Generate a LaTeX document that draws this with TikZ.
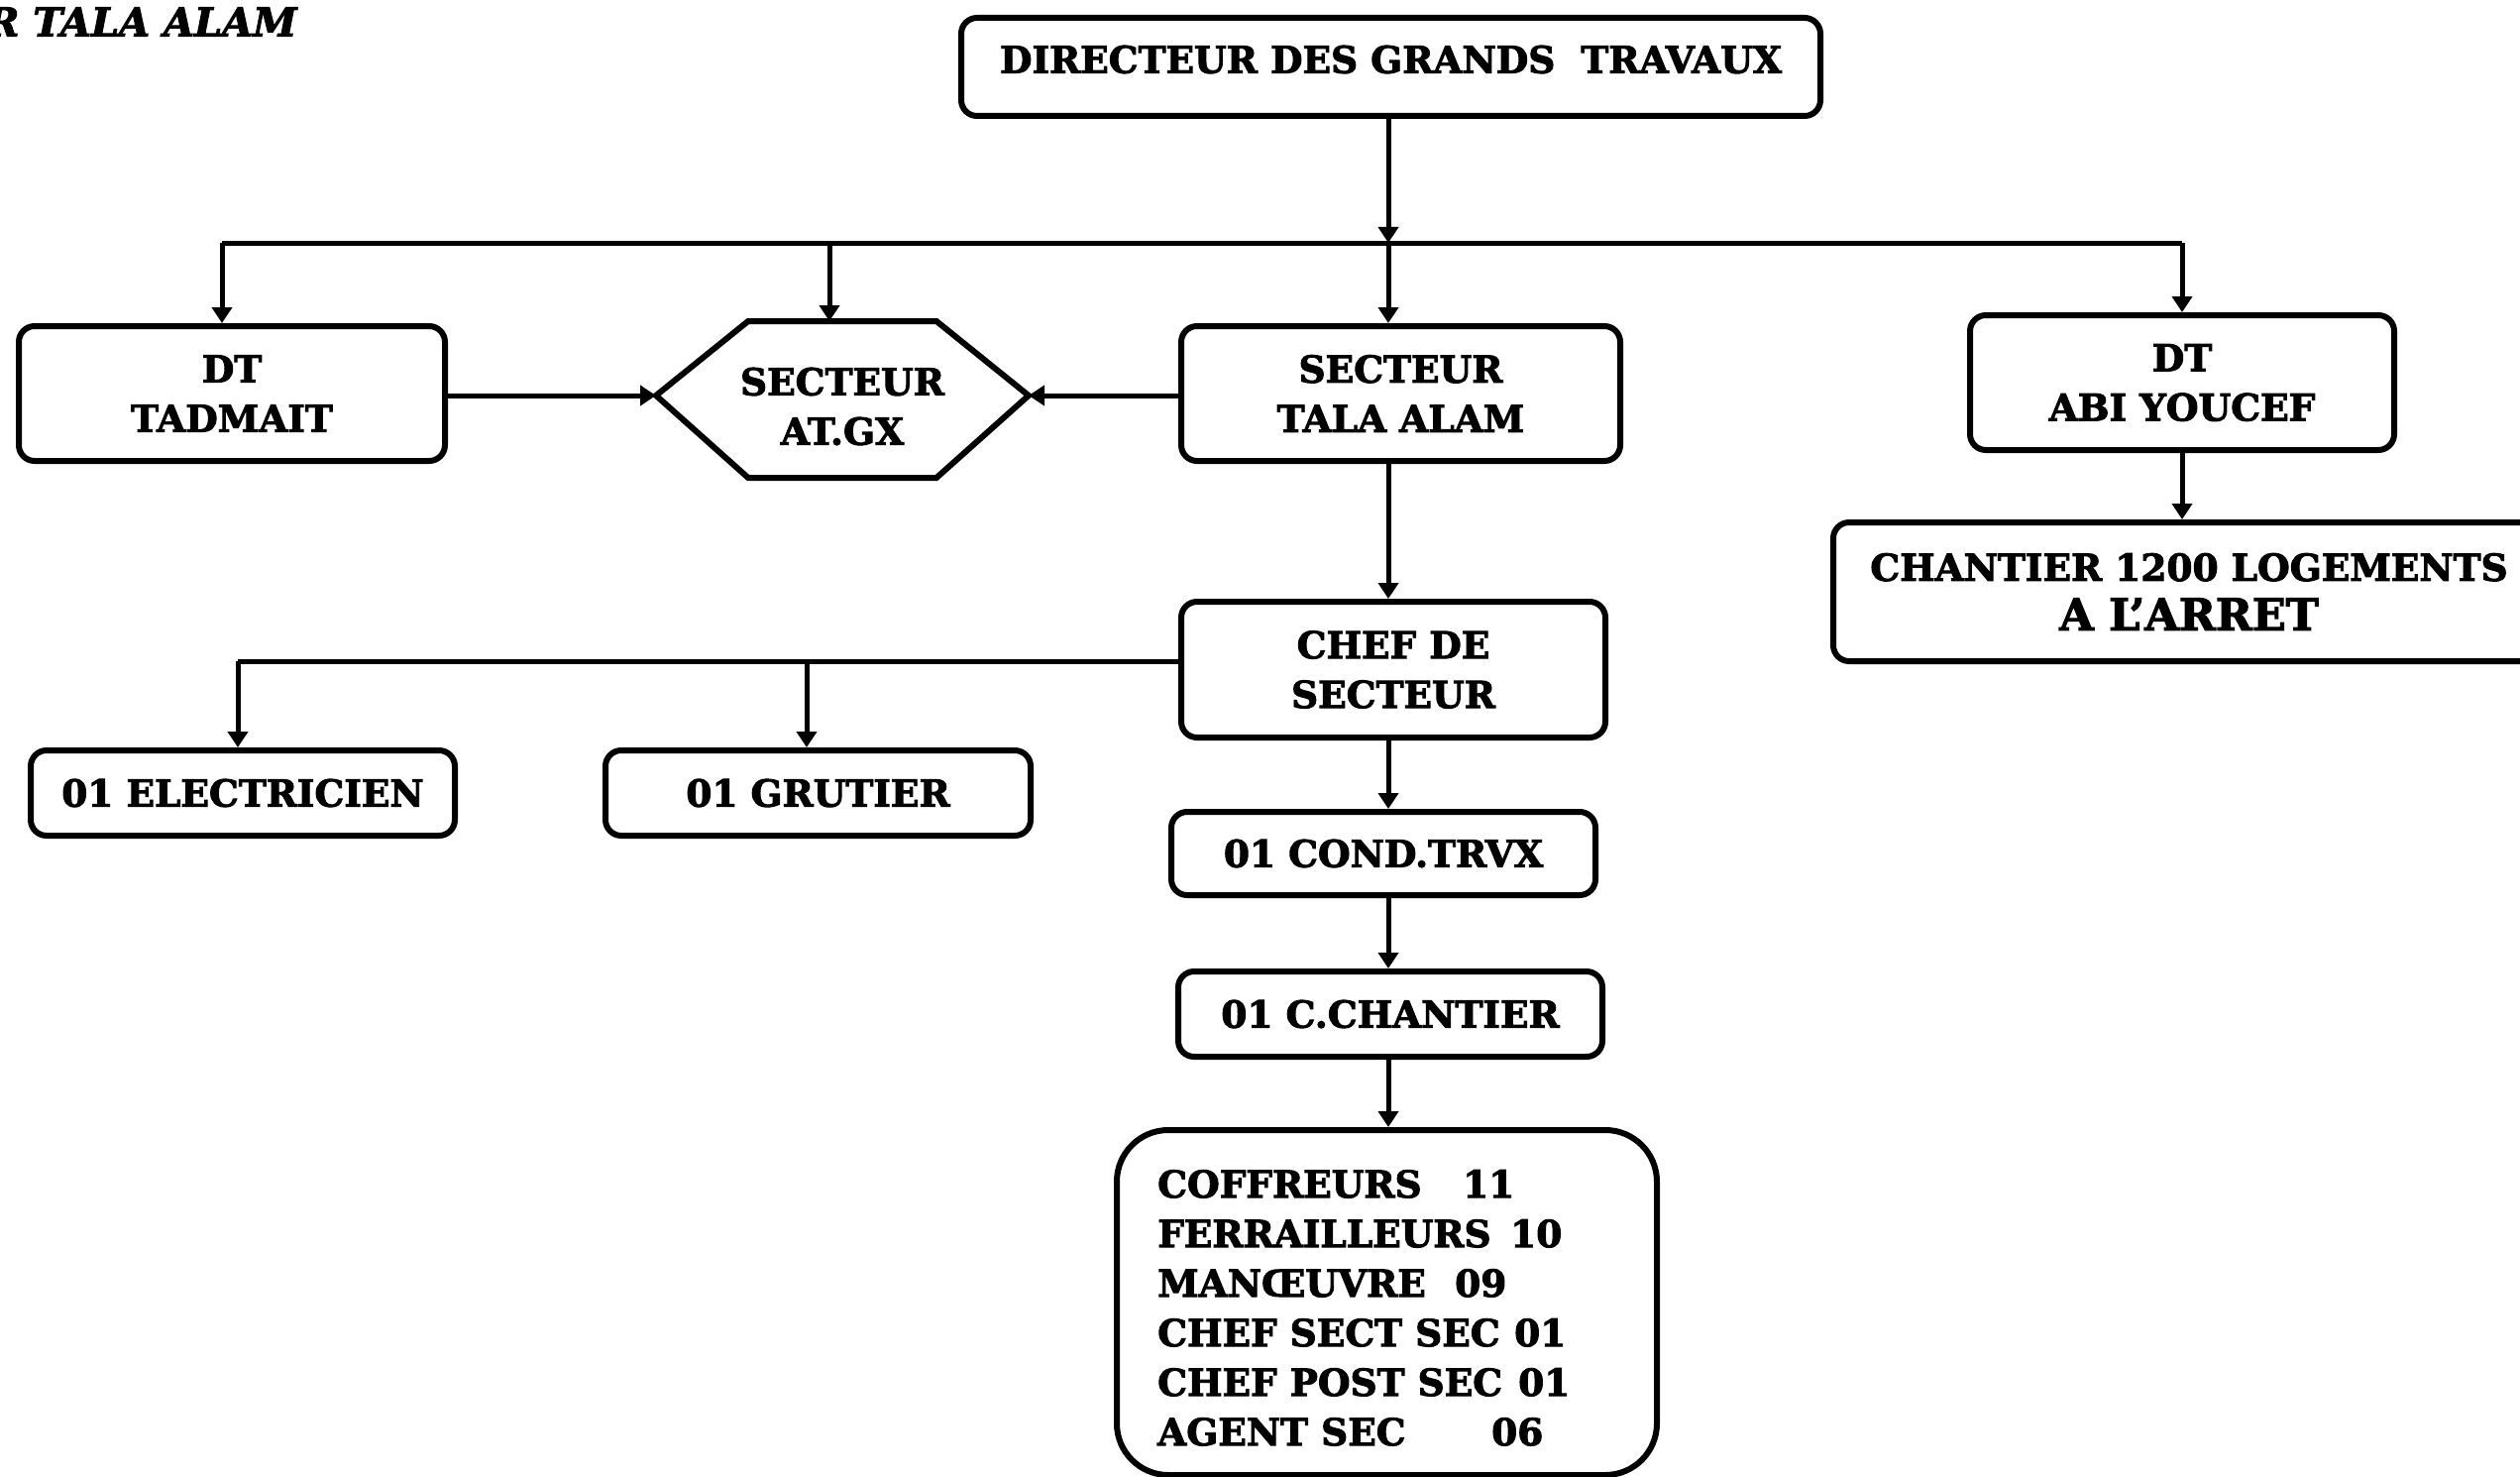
\documentclass[tikz,border=0pt]{standalone}
\usepackage{fontspec}
\setmainfont{DejaVu Serif}[BoldFeatures={FakeBold=2.5}, BoldItalicFeatures={FakeBold=2.5}]
\usetikzlibrary{arrows.meta,calc}

\tikzset{
  box/.style={draw, line width=6pt, rounded corners=16pt, align=center,
    inner sep=0pt, font=\orgfont},
  link/.style={line width=5pt},
  arr/.style={link, -{Triangle[length=16pt,width=20pt]}},
}
\newcommand{\orgfont}{\bfseries\fontsize{37.5}{50}\selectfont}
\newcommand{\staffrow}[3]{\makebox[#2pt][l]{#1}#3}

\begin{document}
\begin{tikzpicture}[x=1pt,y=-1pt]
\useasboundingbox (0,0) rectangle (2543,1490);

% heading, cut by the left page edge
\node[anchor=west, inner sep=0pt, font=\bfseries\itshape\fontsize{40}{48}\selectfont]
  (heading) at (-14,22) {R TALA ALAM};

% boxes
\node[box, minimum width=867pt, minimum height=99pt] (dir) at (1403.5,67.5) {};
\node[inner sep=0pt, font=\orgfont] (dirtext) at (1403.5,60) {DIRECTEUR DES GRANDS\ \ TRAVAUX};

\node[box, minimum width=430pt, minimum height=136pt] (tad) at (234,397) {DT\\TADMAIT};
\node[box, minimum width=443pt, minimum height=136pt] (tala) at (1413.5,397) {SECTEUR\\TALA ALAM};
\node[box, minimum width=428pt, minimum height=136pt] (abi) at (2202,386) {DT\\ABI YOUCEF};
\node[box, minimum width=718pt, minimum height=140pt] (chant) at (2209,597)
  {CHANTIER 1200 LOGEMENTS\\{\fontsize{44.5}{53}\selectfont A L'ARRET}};
\node[box, minimum width=428pt, minimum height=137pt] (chef) at (1406,675.5) {CHEF DE\\SECTEUR};
\node[box, minimum width=428pt, minimum height=86pt] (elec) at (245,800) {01 ELECTRICIEN};
\node[box, minimum width=429pt, minimum height=86pt] (grut) at (825.5,800) {01 GRUTIER};
\node[box, minimum width=428pt, minimum height=84pt] (cond) at (1396,861) {01 COND.TRVX};
\node[box, minimum width=428pt, minimum height=86pt] (cch) at (1403,1023) {01 C.CHANTIER};
\node[box, rounded corners=52pt, minimum width=545pt, minimum height=348pt] (staff) at (1399.5,1314) {};
\node[anchor=north west, align=left, inner sep=0pt, font=\orgfont] (stafftext) at (1168,1180) {%
  \staffrow{COFFREURS}{308}{11}\\
  \staffrow{FERRAILLEURS}{356}{10}\\
  \staffrow{MAN\OE UVRE}{300}{09}\\
  \staffrow{CHEF SECT SEC}{360}{01}\\
  \staffrow{CHEF POST SEC}{364}{01}\\
  \staffrow{AGENT SEC}{337}{06}};

% hexagonal sector box
\coordinate (hexW) at (662,399);
\coordinate (hexE) at (1038,399);
\coordinate (hexN) at (837,324);
\draw[line width=6pt, line join=miter] (hexW) -- (755,324) -- (945,324) -- (hexE)
  -- (945,482) -- (755,482) -- cycle;
\node[align=center, inner sep=0pt, font=\orgfont] (hex) at (850,410) {SECTEUR\\AT.GX};

% top distribution bar
\coordinate (bar) at (1401,245);
\coordinate (barL) at (224,245);
\coordinate (barH) at (837,245);
\coordinate (barR) at (2202,245);
\draw[link] (barL) -- (barR);
\draw[arr] (dir.south -| bar) -- (bar);
\draw[arr] (bar) -- (bar |- tala.north);
\draw[arr] (barL) -- (barL |- tad.north);
\draw[arr] (barH) -- (hexN);
\draw[arr] (barR) -- (barR |- abi.north);

% side links into the hexagon
\draw[arr] (hexW -| tad.east) -- (hexW);
\draw[arr] (hexE -| tala.west) -- (hexE);

% sector chain
\draw[arr] (tala.south -| bar) -- (chef.north -| bar);
\draw[arr] (chef.south -| bar) -- (cond.north -| bar);
\draw[arr] (cond.south -| bar) -- (cch.north -| bar);
\draw[arr] (cch.south -| bar) -- (staff.north -| bar);
\draw[arr] (abi.south) -- (abi.south |- chant.north);

% staff branch
\coordinate (chefL) at (240,667);
\coordinate (chefM) at (814,667);
\draw[link] (chef.west |- chefL) -- (chefL);
\draw[arr] (chefL) -- (chefL |- elec.north);
\draw[arr] (chefM) -- (chefM |- grut.north);
\end{tikzpicture}
\end{document}
